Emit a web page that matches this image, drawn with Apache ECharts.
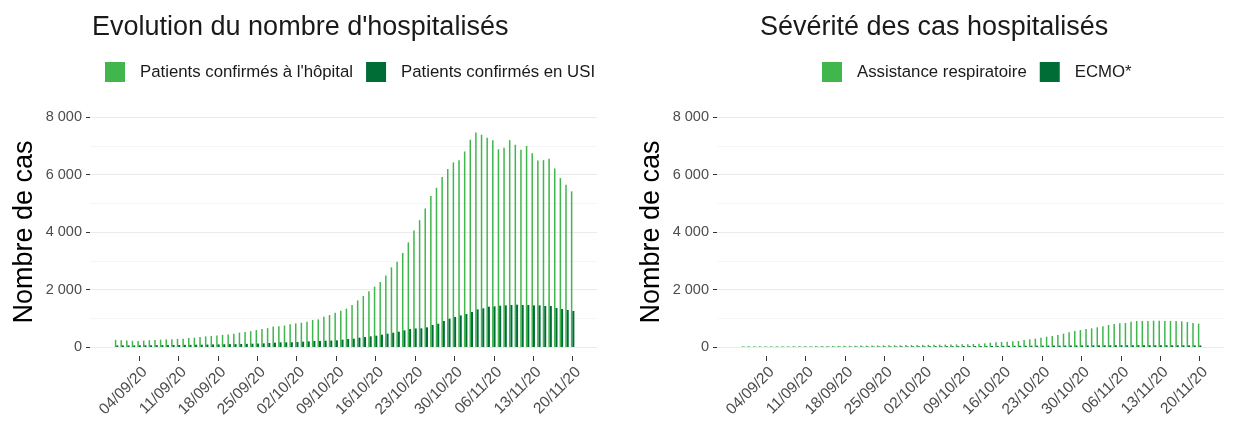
<!DOCTYPE html>
<html>
<head>
<meta charset="utf-8">
<script src="https://cdn.jsdelivr.net/npm/echarts@6/dist/echarts.min.js"></script>
<style>
  html, body { margin: 0; padding: 0; background: #fff; }
  #chart { width: 1235px; height: 432px; }
</style>
</head>
<body>
<div id="chart"></div>
<script>
// dates (one bar group per day)
const dates = [
  "31/08/20",
  "01/09/20", "02/09/20", "03/09/20", "04/09/20", "05/09/20", "06/09/20", "07/09/20", "08/09/20", "09/09/20", "10/09/20",
  "11/09/20", "12/09/20", "13/09/20", "14/09/20", "15/09/20", "16/09/20", "17/09/20", "18/09/20", "19/09/20", "20/09/20",
  "21/09/20", "22/09/20", "23/09/20", "24/09/20", "25/09/20", "26/09/20", "27/09/20", "28/09/20", "29/09/20", "30/09/20",
  "01/10/20", "02/10/20", "03/10/20", "04/10/20", "05/10/20", "06/10/20", "07/10/20", "08/10/20", "09/10/20", "10/10/20",
  "11/10/20", "12/10/20", "13/10/20", "14/10/20", "15/10/20", "16/10/20", "17/10/20", "18/10/20", "19/10/20", "20/10/20",
  "21/10/20", "22/10/20", "23/10/20", "24/10/20", "25/10/20", "26/10/20", "27/10/20", "28/10/20", "29/10/20", "30/10/20",
  "31/10/20",
  "01/11/20", "02/11/20", "03/11/20", "04/11/20", "05/11/20", "06/11/20", "07/11/20", "08/11/20", "09/11/20", "10/11/20",
  "11/11/20", "12/11/20", "13/11/20", "14/11/20", "15/11/20", "16/11/20", "17/11/20", "18/11/20", "19/11/20", "20/11/20"
];
const tickDates = ["04/09/20", "11/09/20", "18/09/20", "25/09/20", "02/10/20", "09/10/20",
  "16/10/20", "23/10/20", "30/10/20", "06/11/20", "13/11/20", "20/11/20"];

// Evolution du nombre d'hospitalisés
const hopital = [
  250, 235, 225, 215, 210, 220, 235, 245, 255, 265, 270, 280, 285, 310, 325, 345, 370, 385, 400, 420,
  435, 465, 500, 525, 550, 590, 630, 655, 715, 720, 745, 790, 820, 845, 880, 940, 960, 1055, 1110, 1195,
  1265, 1335, 1460, 1620, 1775, 1935, 2100, 2260, 2490, 2770, 2965, 3270, 3640, 4055, 4410, 4820, 5250, 5540, 5910, 6190,
  6420, 6500, 6800, 7210, 7465, 7385, 7280, 7195, 6875, 6930, 7195, 7035, 6860, 6990, 6735, 6490, 6500, 6550, 6210, 5875,
  5645, 5415
];
const usi = [
  55, 55, 55, 55, 60, 60, 60, 65, 65, 65, 70, 70, 75, 75, 80, 80, 85, 90, 90, 95,
  100, 100, 105, 110, 115, 120, 127, 139, 151, 162, 162, 165, 174, 185, 197, 209, 212, 220, 225, 232,
  255, 278, 290, 325, 348, 371, 394, 429, 464, 498, 533, 580, 626, 645, 650, 684, 765, 811, 904, 985,
  1043, 1101, 1147, 1217, 1310, 1344, 1402, 1414, 1437, 1449, 1460, 1472, 1460, 1460, 1449, 1449, 1426, 1426, 1356, 1321,
  1287, 1252
];

// Sévérité des cas hospitalisés
const respiratoire = [
  25, 24, 25, 26, 25, 24, 25, 27, 26, 28, 28, 30, 29, 32, 33, 35, 36, 38, 40, 42,
  45, 48, 50, 52, 55, 58, 60, 62, 65, 68, 70, 72, 75, 78, 80, 82, 85, 88, 90, 95,
  98, 104, 116, 127, 151, 162, 174, 185, 197, 209, 243, 267, 290, 325, 359, 383, 417, 464, 510, 556,
  591, 626, 649, 684, 719, 765, 800, 823, 834, 881, 904, 904, 904, 916, 916, 904, 904, 904, 892, 869,
  834, 811
];
const ecmo = [
  8, 8, 9, 8, 8, 9, 9, 10, 9, 10, 10, 11, 10, 11, 12, 12, 12, 13, 14, 13,
  14, 15, 16, 16, 17, 18, 19, 20, 21, 22, 23, 24, 25, 26, 27, 28, 29, 30, 31, 32,
  33, 34, 35, 36, 37, 38, 40, 41, 42, 43, 44, 45, 46, 47, 48, 49, 50, 52, 53, 54,
  55, 56, 57, 58, 59, 60, 60, 61, 61, 62, 62, 62, 62, 61, 61, 60, 60, 59, 58, 57,
  56, 55
];

const lightGreen = "#41b64c";
const darkGreen = "#006d37";
const font = "Liberation Sans";
const tickIdx = tickDates.map(d => dates.indexOf(d));

const chart = echarts.init(document.getElementById("chart"), null, { renderer: "canvas" });

function xAxisFor(gridIndex) {
  return {
    type: "value",
    gridIndex: gridIndex,
    min: -4.72,
    max: 85.33,
    offset: 9,
    axisLine: { show: false, onZero: false },
    axisTick: { show: true, length: 5, lineStyle: { color: "#333", width: 1 }, customValues: tickIdx },
    axisLabel: {
      customValues: tickIdx,
      rotate: 45,
      margin: 8,
      align: "right",
      verticalAlign: "top",
      fontFamily: font,
      fontSize: 15.5,
      color: "#4d4d4d",
      formatter: v => dates[Math.round(v)]
    },
    splitLine: { show: false }
  };
}

function yAxisFor(gridIndex) {
  return {
    type: "value",
    gridIndex: gridIndex,
    min: 0,
    max: 8000,
    interval: 2000,
    name: "Nombre de cas",
    nameLocation: "middle",
    nameGap: 52,
    nameTextStyle: { fontFamily: font, fontSize: 27, color: "#000" },
    axisLine: { show: false, onZero: false },
    axisTick: { show: true, length: 4, lineStyle: { color: "#333" } },
    axisLabel: {
      margin: 8,
      fontFamily: font,
      fontSize: 14.5,
      color: "#4d4d4d",
      formatter: v => String(v).replace(/\B(?=(\d{3})+(?!\d))/g, " ")
    },
    splitLine: { show: true, lineStyle: { color: "#ebebeb", width: 1.2 } },
    minorTick: { show: false, splitNumber: 2 },
    minorSplitLine: { show: true, lineStyle: { color: "#f5f5f5", width: 1 } }
  };
}

function barSeries(name, values, color, xi, width) {
  return {
    name: name,
    type: "bar",
    xAxisIndex: xi,
    yAxisIndex: xi,
    data: values.map((v, i) => [i, v]),
    barWidth: width,
    barGap: "0%",
    itemStyle: { color: color },
    emphasis: { disabled: true }
  };
}

const legendBase = {
  top: 62, padding: 0, icon: "rect", itemWidth: 20, itemHeight: 20, itemGap: 13,
  textStyle: { fontFamily: font, fontSize: 16.8, color: "#1a1a1a", padding: [0, 0, 0, 10] }
};

const option = {
  animation: false,
  backgroundColor: "#fff",
  title: [
    { text: "Evolution du nombre d'hospitalisés", left: 87, top: 9,
      textStyle: { fontFamily: font, fontSize: 27, fontWeight: "normal", color: "#1a1a1a" } },
    { text: "Sévérité des cas hospitalisés", left: 755, top: 9,
      textStyle: { fontFamily: font, fontSize: 27, fontWeight: "normal", color: "#1a1a1a" } }
  ],
  legend: [
    Object.assign({}, legendBase, { data: ["Patients confirmés à l'hôpital", "Patients confirmés en USI"], left: 105 }),
    Object.assign({}, legendBase, { data: ["Assistance respiratoire", "ECMO*"], left: 822 })
  ],
  grid: [
    { left: 90, top: 117, width: 507, height: 230 },
    { left: 717, top: 117, width: 507, height: 230 }
  ],
  xAxis: [xAxisFor(0), xAxisFor(1)],
  yAxis: [yAxisFor(0), yAxisFor(1)],
  series: [
    barSeries("Patients confirmés à l'hôpital", hopital, lightGreen, 0, 1.5),
    barSeries("Patients confirmés en USI", usi, darkGreen, 0, 2),
    barSeries("Assistance respiratoire", respiratoire, lightGreen, 1, 1.5),
    barSeries("ECMO*", ecmo, darkGreen, 1, 2)
  ]
};

chart.setOption(option);
</script>
</body>
</html>
